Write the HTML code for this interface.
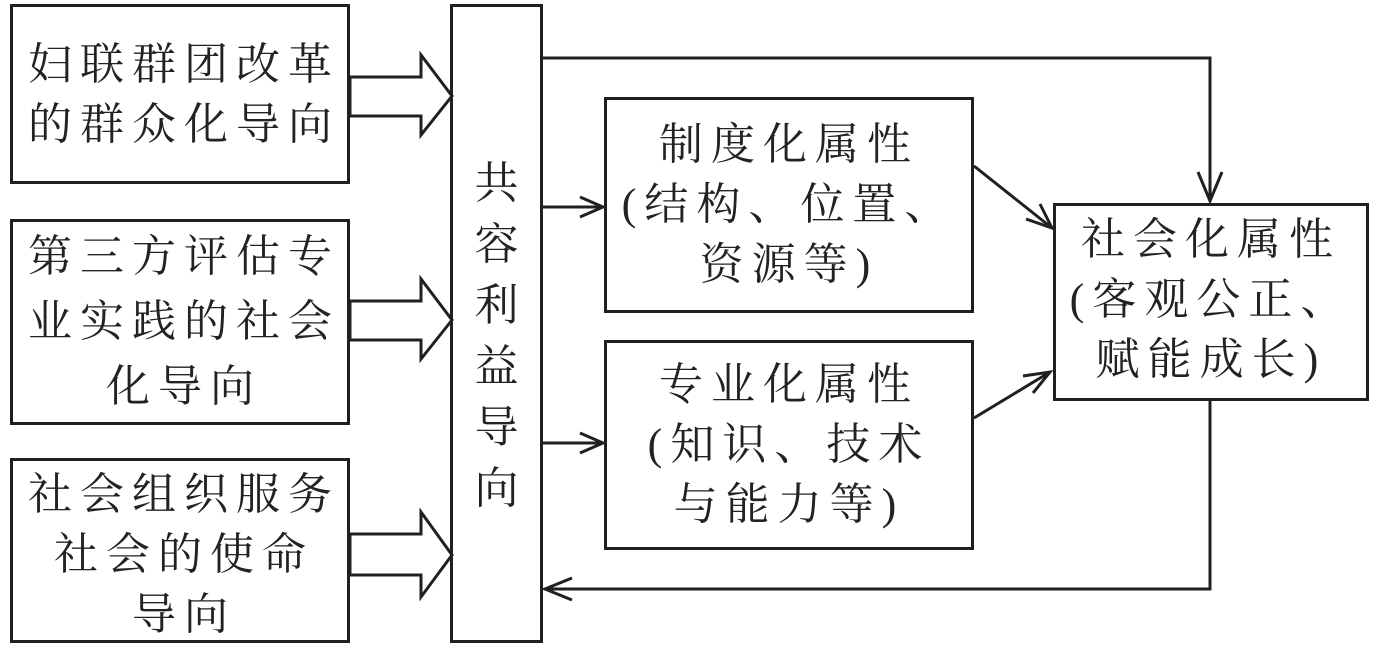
<!DOCTYPE html>
<html><head><meta charset="utf-8"><style>
body{margin:0;width:1378px;height:648px;background:#fff;position:relative;overflow:hidden;font-family:"Liberation Serif","Noto Serif CJK SC",serif;color:#222}
.b{position:absolute;border:3px solid #231f20;box-sizing:border-box}
.t{position:absolute;font-size:44px;line-height:60px;text-align:center;letter-spacing:8px;white-space:nowrap}
</style></head><body>
<div class="b" style="left:10px;top:4px;width:340px;height:180px"></div>
<div class="b" style="left:10px;top:219px;width:340px;height:206px"></div>
<div class="b" style="left:10px;top:458px;width:340px;height:185px"></div>
<div class="b" style="left:450px;top:4px;width:93px;height:639px"></div>
<div class="b" style="left:604px;top:97px;width:370px;height:216px"></div>
<div class="b" style="left:604px;top:340px;width:370px;height:210px"></div>
<div class="b" style="left:1053px;top:203px;width:316px;height:198px"></div>

<div class="t" style="left:14px;top:35px;width:340px">妇联群团改革<br>的群众化导向</div>
<div class="t" style="left:14px;top:224px;width:340px;line-height:65px">第三方评估专<br>业实践的社会<br>化导向</div>
<div class="t" style="left:14px;top:465px;width:340px">社会组织服务<br>社会的使命<br>导向</div>
<div class="t" style="left:450px;top:153px;width:93px;line-height:61px;letter-spacing:0">共<br>容<br>利<br>益<br>导<br>向</div>
<div class="t" style="left:604px;top:115px;width:370px">制度化属性<br>(结构、位置、<br>资源等)</div>
<div class="t" style="left:604px;top:355px;width:370px">专业化属性<br>(知识、技术<br>与能力等)</div>
<div class="t" style="left:1053px;top:210px;width:316px">社会化属性<br>(客观公正、<br>赋能成长)</div>

<svg width="1378" height="648" style="position:absolute;left:0;top:0" fill="none" stroke="#231f20" stroke-width="3">
<polygon points="350,77 421,77 421,55 452,96 421,135 421,116 350,116"/>
<polygon points="350,301 421,301 421,279 452,320 421,359 421,340 350,340"/>
<polygon points="350,534 421,534 421,512 452,555 421,597 421,575 350,575"/>
<polyline points="543,58 1210,58 1210,201"/>
<polyline points="1198,172 1210,201 1222,172"/>
<line x1="543" y1="207" x2="603" y2="207"/>
<polyline points="580,197 603,207 580,217"/>
<line x1="543" y1="443" x2="603" y2="443"/>
<polyline points="580,433 603,443 580,453"/>
<line x1="974" y1="166" x2="1052" y2="228"/>
<polyline points="1026,219 1052,228 1040,204"/>
<line x1="974" y1="418" x2="1050" y2="372"/>
<polyline points="1023,376 1050,372 1033,393"/>
<polyline points="1210,401 1210,589 545,589"/>
<polyline points="572,578 545,589 572,600"/>
</svg>
</body></html>
